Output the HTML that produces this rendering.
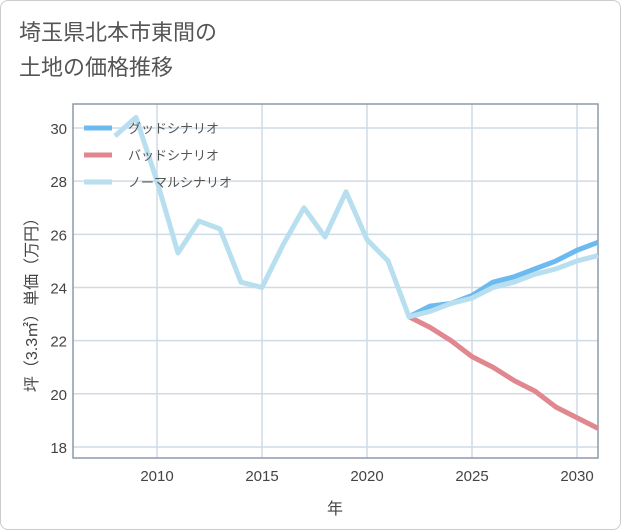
<!DOCTYPE html>
<html><head><meta charset="utf-8"><style>
body{margin:0;background:#fff}
#wrap{position:relative;width:619px;height:528px;border:1px solid #ccc;border-radius:8px;background:#fff;overflow:hidden}
#title{position:absolute;left:18px;top:14px;font:22px "Liberation Sans","Noto Sans CJK JP",sans-serif;color:#555;line-height:35px}
svg text{font-family:"Liberation Sans","Noto Sans CJK JP",sans-serif}
</style></head><body>
<div id="wrap">
<div id="title">埼玉県北本市東間の<br>土地の価格推移</div>
<svg id="chart" width="621" height="530" style="position:absolute;left:0;top:0"></svg>
</div>
<script>
const xTicks=[2010,2015,2020,2025,2030];
const yTicks=[18,20,22,24,26,28,30];
const normalYears=[2008,2009,2010,2011,2012,2013,2014,2015,2016,2017,2018,2019,2020,2021,2022,2023,2024,2025,2026,2027,2028,2029,2030,2031];
const normalVals=[29.7,30.4,28.0,25.3,26.5,26.2,24.2,24.0,25.6,27.0,25.9,27.6,25.8,25.0,22.9,23.1,23.4,23.6,24.0,24.2,24.5,24.7,25.0,25.2];
const futureYears=[2022,2023,2024,2025,2026,2027,2028,2029,2030,2031];
const goodVals=[22.9,23.3,23.4,23.7,24.2,24.4,24.7,25.0,25.4,25.7];
const badVals=[22.9,22.5,22.0,21.4,21.0,20.5,20.1,19.5,19.1,18.7];
const L=72,R=597,T=103,B=457;
const x=v=>156+(v-2010)*21;
const y=v=>127+(30-v)*26.58;
const svg=document.getElementById('chart');
const NS='http://www.w3.org/2000/svg';
function mk(t,a){const e=document.createElementNS(NS,t);for(const k in a)e.setAttribute(k,a[k]);svg.appendChild(e);return e;}
let e;
e=mk('rect',{x:L,y:T,width:R-L,height:B-T,fill:'#fff',stroke:'none'});


xTicks.forEach(t=>{
 e=mk('line',{x1:x(t),x2:x(t),y1:T,y2:B,stroke:'#cfdbe5','stroke-width':1.5});
 
 
 e=mk('text',{x:x(t),y:480,'text-anchor':'middle','font-size':15,fill:'#444'});e.textContent=t;
 
 
});
yTicks.forEach(t=>{
 e=mk('line',{x1:L,x2:R,y1:y(t),y2:y(t),stroke:'#cfdbe5','stroke-width':1.5});
 
 
 e=mk('text',{x:66,y:y(t)+6,'text-anchor':'end','font-size':15,fill:'#444'});e.textContent=t;
 
 
});
e=mk('rect',{x:L,y:T,width:R-L,height:B-T,fill:'none',stroke:'#8a9aa8','stroke-width':1.5});


function line(xs,vs,color,name){
 const p=mk('polyline',{points:xs.map((t,i)=>x(t)+','+y(vs[i])).join(' '),fill:'none',stroke:color,'stroke-width':5,'stroke-linejoin':'round'});
 
 
}
line(futureYears,badVals,'#e0878f','bad-scenario-line');
line(futureYears,goodVals,'#6cbaf0','good-scenario-line');
line(normalYears,normalVals,'#b8dff0','normal-scenario-line');
const leg=[['グッドシナリオ','#6cbaf0'],['バッドシナリオ','#e0878f'],['ノーマルシナリオ','#b8dff0']];
leg.forEach((l,i)=>{
 const yy=127+i*27;
 e=mk('line',{x1:83,x2:111,y1:yy,y2:yy,stroke:l[1],'stroke-width':5});
 
 
 e=mk('text',{x:127,y:yy+5,'font-size':13,fill:'#555'});e.textContent=l[0];
 
 
});
e=mk('text',{x:334,y:513,'text-anchor':'middle','font-size':16,fill:'#444'});e.textContent='年';


e=mk('text',{x:0,y:0,'text-anchor':'middle','font-size':16,fill:'#444',transform:'translate(36,300) rotate(-90)'});e.textContent='坪（3.3㎡）単価（万円）';


</script>
</body></html>
